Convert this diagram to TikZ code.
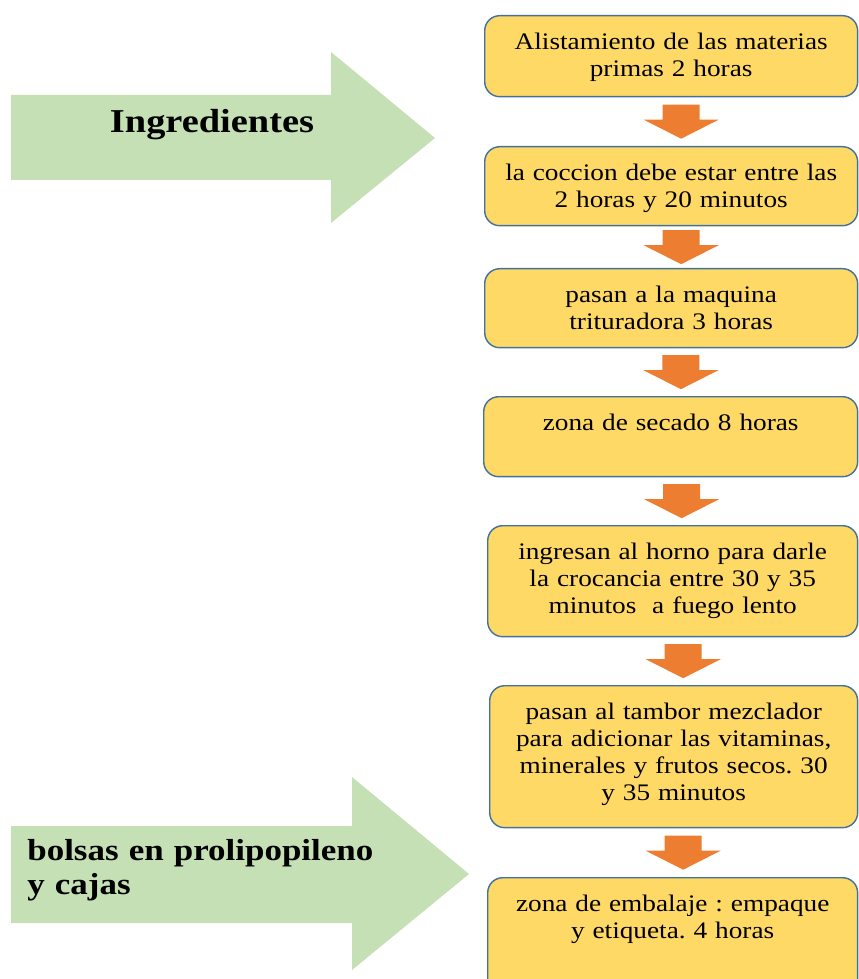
\documentclass[tikz,border=0pt]{standalone}
\usepackage{fontspec}
\setmainfont{Liberation Serif}[FakeStretch=1.15]
\usepackage{xcolor}
\definecolor{amarillo}{HTML}{FFD966}
\definecolor{borde}{HTML}{41719C}
\definecolor{naranja}{HTML}{ED7D31}
\definecolor{verde}{HTML}{C5E0B4}
\usepackage{tikz}
\usetikzlibrary{calc}
\frenchspacing
\tikzset{
  caja/.style={draw=borde, fill=amarillo, line width=0.8pt, rounded corners=0.3cm, anchor=north west,
    inner xsep=0.1cm, inner ysep=0pt, align=center, text height=0.68cm, font=\fontsize{13.5}{15.4}\selectfont},
  flecha/.pic={\fill[naranja] (-18.5,-17) -- (18.5,-17) -- (18.5,-2) -- (37.5,-2) -- (0,17) -- (-37.5,-2) -- (-18.5,-2) -- cycle;},
  rotulo/.style={font=\fontsize{19}{22}\selectfont\bfseries, inner sep=0pt}
}

\begin{document}
\begin{tikzpicture}[x=0.02cm, y=-0.02cm]
            \useasboundingbox (0,0) rectangle (858,979);
            \fill[verde] (11,95) -- (331,95) -- (331,52) -- (435,138) -- (331,223) -- (331,180) -- (11,180) -- cycle;
            \node[rotulo, anchor=base] (ingr) at (212,133) {Ingredientes};
            \fill[verde] (11,826) -- (352,826) -- (352,777) -- (469,874) -- (352,970) -- (352,923) -- (11,923) -- cycle;
            \node[rotulo, anchor=base west, align=left, text width=7.2cm, font=\fontsize{17.3}{19.9}\selectfont\bfseries] (bols) at (27,860) {bolsas en prolipopileno\\y cajas};
            \node[caja, text width=7.26cm, text depth=0.94cm] (s1) at (484,15) {Alistamiento de las materias\\primas 2 horas};
            \node[caja, text width=7.26cm, text depth=0.90cm] (s2) at (484,146) {la coccion debe estar entre las\\2 horas y 20 minutos};
            \node[caja, text width=7.26cm, text depth=0.90cm] (s3) at (484,268) {pasan a la maquina\\trituradora 3 horas};
            \node[caja, text width=7.28cm, text depth=0.92cm] (s4) at (483,396) {zona de secado 8 horas};
            \node[caja, text width=7.20cm, text depth=1.54cm] (s5) at (487,525) {ingresan al horno para darle\\la crocancia entre 30 y 35\\minutos \ a fuego lento};
            \node[caja, text width=7.16cm, text depth=2.16cm] (s6) at (489,685) {pasan al tambor mezclador\\para adicionar las vitaminas,\\minerales y frutos secos. 30\\y 35 minutos};
            \node[caja, text width=7.20cm, text depth=1.72cm] (s7) at (487,877) {zona de embalaje : empaque\\y etiqueta. 4 horas};
            \foreach \a/\b in {s1/s2, s2/s3, s3/s4, s4/s5, s5/s6, s6/s7}
                \pic at ($(\a.south)!0.5!(\b.north)+(10,0)$) {flecha};
        \end{tikzpicture}
\end{document}
